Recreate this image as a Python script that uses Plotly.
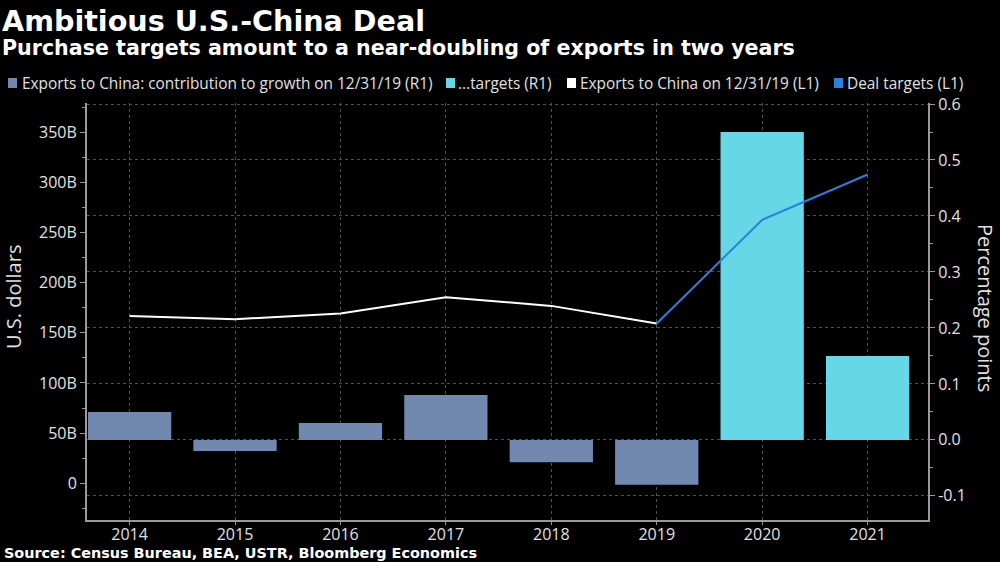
import plotly.graph_objects as go

# ---- data ----
years = ["2014", "2015", "2016", "2017", "2018", "2019", "2020", "2021"]
contrib_growth = [0.05, -0.02, 0.03, 0.08, -0.04, -0.08, None, None]        # R1
contrib_targets = [None, None, None, None, None, None, 0.55, 0.15]          # R1
export_years = ["2014", "2015", "2016", "2017", "2018", "2019"]
exports_bn = [166.8, 163.5, 169.3, 185.4, 176.8, 159.3]                     # L1
target_years = ["2019", "2020", "2021"]
targets_bn = [159.3, 262.5, 307.7]                                          # L1
left_ticks = [0, 50, 100, 150, 200, 250, 300, 350]
left_ticklabels = ["0", "50B", "100B", "150B", "200B", "250B", "300B", "350B"]
right_ticks = [-0.1, 0.0, 0.1, 0.2, 0.3, 0.4, 0.5, 0.6]
right_ticklabels = ["-0.1", "0.0", "0.1", "0.2", "0.3", "0.4", "0.5", "0.6"]

names = [
    "Exports to China: contribution to growth on 12/31/19 (R1)",
    "...targets (R1)",
    "Exports to China on 12/31/19 (L1)",
    "Deal targets (L1)",
]

C_GROWTH = "#7189AE"
C_TARGET = "#66D7E6"
C_EXPORT = "#FFFFFF"
C_DEAL = "#2A80E0"
colors = [C_GROWTH, C_TARGET, C_EXPORT, C_DEAL]
TXT = "#E0E0E0"
GRID = "#505050"
AXIS = "#9A9A9A"
FONT = "Open Sans"

fig = go.Figure()

fig.add_trace(go.Bar(x=years, y=contrib_growth, name=names[0], marker_color=C_GROWTH,
                     marker_line_width=0, width=0.79, yaxis="y", showlegend=False))
fig.add_trace(go.Bar(x=years, y=contrib_targets, name=names[1], marker_color=C_TARGET,
                     marker_line_width=0, width=0.79, yaxis="y", showlegend=False))
fig.add_trace(go.Scatter(x=export_years, y=exports_bn, mode="lines", name=names[2],
                         showlegend=False, line=dict(color=C_EXPORT, width=2), yaxis="y2"))
fig.add_trace(go.Scatter(x=target_years, y=targets_bn, mode="lines", name=names[3],
                         showlegend=False, line=dict(color=C_DEAL, width=2), yaxis="y2"))

L, R, T, B = 87, 72, 103, 42
W, H = 1000, 562
PW, PH = W - L - R, H - T - B


def px(xp):
    return (xp - L) / PW


def py(yp):
    return (H - B - yp) / PH


fig.update_layout(
    width=W, height=H,
    margin=dict(l=L, r=R, t=T, b=B, autoexpand=False),
    paper_bgcolor="black", plot_bgcolor="black",
    font=dict(family=FONT, color=TXT, size=15),
    barmode="overlay",
    showlegend=False,
    xaxis=dict(type="category", range=[-0.404, 7.573], showgrid=True, gridcolor=GRID,
               griddash="dot", gridwidth=1, showline=True, linecolor=AXIS, linewidth=2,
               ticks="outside", ticklen=3, tickcolor=AXIS, tickfont=dict(size=16, color=TXT),
               ticklabelstandoff=-4, zeroline=False),
    yaxis=dict(side="right", range=[-0.1431, 0.6018], tickvals=right_ticks,
               ticktext=right_ticklabels, showgrid=True, gridcolor=GRID, griddash="dot",
               gridwidth=1, showline=True, linecolor=AXIS, linewidth=2, ticks="outside",
               ticklen=5, tickcolor=AXIS, tickfont=dict(size=16, color=TXT), zeroline=False,
               minor=dict(ticks="outside", ticklen=3, tickcolor=AXIS, dtick=0.05, tick0=0,
                          showgrid=False)),
    yaxis2=dict(overlaying="y", side="left", range=[-36.6, 379], tickvals=left_ticks,
                ticktext=left_ticklabels, showgrid=False, showline=True, linecolor=AXIS,
                linewidth=2, ticks="outside", ticklen=5, tickcolor=AXIS,
                tickfont=dict(size=16, color=TXT), zeroline=False,
                minor=dict(ticks="outside", ticklen=3, tickcolor=AXIS, dtick=25, tick0=0)),
)

annos = [
    dict(text="<b>Ambitious U.S.-China Deal</b>", x=px(0), y=py(21), xanchor="left",
         yanchor="middle", font=dict(family="DejaVu Sans", size=28.6, color="white")),
    dict(text="<b>Purchase targets amount to a near-doubling of exports in two years</b>",
         x=px(0), y=py(48.5), xanchor="left", yanchor="middle",
         font=dict(family="DejaVu Sans", size=20.6, color="white")),
    dict(text="<b>Source: Census Bureau, BEA, USTR, Bloomberg Economics</b>", x=px(2),
         y=py(553), xanchor="left", yanchor="middle",
         font=dict(family="DejaVu Sans", size=14.4, color="white")),
    dict(text="U.S. dollars", x=px(13), y=py(297), xanchor="center", yanchor="middle",
         textangle=-90, font=dict(family=FONT, size=20, color=TXT)),
    dict(text="Percentage points", x=px(986), y=py(308), xanchor="center", yanchor="middle",
         textangle=90, font=dict(family=FONT, size=20, color=TXT)),
]
for a in annos:
    fig.add_annotation(xref="paper", yref="paper", showarrow=False, **a)

# legend row (swatch + label), laid out like the reference
legend_swatch_left = [8, 446, 567, 834]
legend_text_left = [20, 456, 578, 845]
LEG_Y = 83
for nm, col, sx, tx in zip(names, colors, legend_swatch_left, legend_text_left):
    fig.add_shape(type="rect", xref="paper", yref="paper", x0=px(sx), x1=px(sx + 9),
                  y0=py(LEG_Y + 5), y1=py(LEG_Y - 5), fillcolor=col, line_width=0)
    fig.add_annotation(xref="paper", yref="paper", showarrow=False, text=nm, x=px(tx),
                       y=py(LEG_Y), xanchor="left", yanchor="middle",
                       font=dict(family=FONT, size=15.4, color=TXT))

fig.write_html("out.html", config={"displayModeBar": False},
               post_script="document.body.style.margin='0';")
